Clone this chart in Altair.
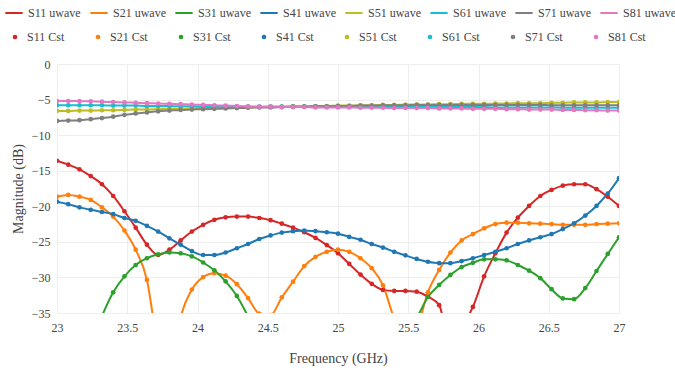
import altair as alt
import pandas as pd

# Frequency sweep (GHz)
FREQ = [23.00, 23.08, 23.16, 23.24, 23.32, 23.40, 23.48, 23.56, 23.64, 23.72,
        23.80, 23.88, 23.96, 24.04, 24.12, 24.20, 24.28, 24.36, 24.44, 24.52,
        24.60, 24.68, 24.76, 24.84, 24.92, 25.00, 25.08, 25.16, 25.24, 25.32,
        25.40, 25.48, 25.56, 25.64, 25.72, 25.80, 25.88, 25.96, 26.04, 26.12,
        26.20, 26.28, 26.36, 26.44, 26.52, 26.60, 26.68, 26.76, 26.84, 26.92,
        27.00]

PORTS = ["S11", "S21", "S31", "S41", "S51", "S61", "S71", "S81"]
COLORS = ["#d62728", "#ff7f0e", "#2ca02c", "#1f77b4",
          "#bcbd22", "#17becf", "#7f7f7f", "#e377c2"]

# Magnitudes in dB
S11 = [-13.6, -14.15, -14.8, -15.75, -16.9, -18.55, -20.7, -23.0, -25.4, -26.85,
       -26.1, -24.8, -23.55, -22.6, -21.9, -21.55, -21.45, -21.45, -21.65, -21.95,
       -22.45, -23.0, -23.65, -24.45, -25.45, -26.6, -28.1, -29.6, -30.9, -31.75,
       -31.9, -31.9, -32.0, -32.7, -33.9, -39.5, -37.0, -34.15, -29.85, -26.6,
       -23.7, -21.6, -19.95, -18.55, -17.7, -17.1, -16.9, -16.9, -17.6, -18.65,
       -19.95]
S21 = [-18.65, -18.4, -18.65, -19.1, -20.15, -21.45, -23.4, -26.1, -30.35, -40.0,
       -45.0, -35.6, -31.7, -29.95, -29.4, -29.75, -30.95, -32.9, -35.1, -35.3,
       -32.8, -30.6, -28.4, -27.1, -26.4, -26.1, -26.4, -27.3, -28.7, -31.1,
       -35.8, -39.0, -37.3, -32.1, -28.95, -26.5, -24.8, -23.9, -23.1, -22.5,
       -22.3, -22.3, -22.4, -22.45, -22.5, -22.6, -22.6, -22.6, -22.5, -22.45,
       -22.4]
S31 = [-53.0, -48.0, -43.0, -39.0, -35.4, -32.1, -29.85, -28.25, -27.3, -26.75,
       -26.5, -26.6, -27.05, -27.9, -29.0, -30.55, -32.6, -35.5, -39.0, -43.0,
       -47.0, -50.0, -52.0, -53.0, -53.0, -52.0, -50.0, -48.0, -45.0, -42.0,
       -39.0, -37.0, -35.6, -32.75, -31.05, -29.65, -28.55, -27.95, -27.45, -27.45,
       -27.6, -28.25, -29.05, -30.1, -31.65, -32.95, -33.05, -31.5, -29.1, -26.7,
       -24.35]
S41 = [-19.35, -19.7, -20.15, -20.5, -20.8, -21.1, -21.65, -22.05, -22.75, -23.55,
       -24.5, -25.4, -26.3, -26.85, -26.85, -26.5, -25.9, -25.3, -24.6, -24.1,
       -23.7, -23.5, -23.4, -23.5, -23.65, -23.85, -24.3, -24.7, -25.3, -25.8,
       -26.4, -26.9, -27.4, -27.8, -28.0, -28.0, -27.7, -27.3, -26.85, -26.4,
       -25.9, -25.3, -24.8, -24.35, -23.9, -23.2, -22.4, -21.3, -19.95, -18.2,
       -16.05]
S51 = [-6.6, -6.6, -6.55, -6.55, -6.5, -6.5, -6.45, -6.4, -6.4, -6.35,
       -6.3, -6.3, -6.25, -6.2, -6.2, -6.15, -6.1, -6.1, -6.05, -6.0,
       -6.0, -5.95, -5.95, -5.9, -5.9, -5.85, -5.85, -5.8, -5.8, -5.75,
       -5.75, -5.7, -5.7, -5.7, -5.65, -5.65, -5.6, -5.6, -5.6, -5.55,
       -5.55, -5.5, -5.5, -5.5, -5.45, -5.45, -5.4, -5.4, -5.4, -5.35,
       -5.35]
S61 = [-5.8, -5.8, -5.8, -5.8, -5.8, -5.85, -5.85, -5.85, -5.9, -5.9,
       -5.9, -5.95, -5.95, -6.0, -6.0, -6.0, -6.0, -6.0, -6.0, -6.0,
       -6.0, -6.0, -6.0, -6.0, -6.0, -6.0, -6.0, -6.0, -6.0, -6.0,
       -6.0, -6.0, -6.0, -6.0, -6.05, -6.05, -6.05, -6.05, -6.05, -6.1,
       -6.1, -6.1, -6.1, -6.1, -6.1, -6.15, -6.15, -6.15, -6.15, -6.15,
       -6.15]
S71 = [-8.0, -7.95, -7.9, -7.75, -7.6, -7.4, -7.15, -6.95, -6.8, -6.65,
       -6.55, -6.45, -6.4, -6.35, -6.3, -6.25, -6.2, -6.15, -6.1, -6.1,
       -6.05, -6.0, -6.0, -5.95, -5.95, -5.9, -5.9, -5.85, -5.85, -5.8,
       -5.8, -5.8, -5.75, -5.75, -5.75, -5.75, -5.75, -5.75, -5.75, -5.75,
       -5.75, -5.75, -5.75, -5.75, -5.8, -5.8, -5.8, -5.8, -5.8, -5.8,
       -5.8]
S81 = [-5.2, -5.2, -5.22, -5.25, -5.3, -5.35, -5.4, -5.45, -5.5, -5.55,
       -5.6, -5.65, -5.7, -5.75, -5.8, -5.85, -5.9, -5.95, -6.0, -6.0,
       -6.05, -6.05, -6.05, -6.1, -6.1, -6.1, -6.1, -6.15, -6.15, -6.15,
       -6.2, -6.2, -6.2, -6.2, -6.25, -6.25, -6.25, -6.3, -6.3, -6.3,
       -6.35, -6.35, -6.4, -6.4, -6.4, -6.45, -6.45, -6.5, -6.5, -6.55,
       -6.55]

X_TICKS = [23, 23.5, 24, 24.5, 25, 25.5, 26, 26.5, 27]
Y_TICKS = [0, -5, -10, -15, -20, -25, -30, -35]

SERIES = [S11, S21, S31, S41, S51, S61, S71, S81]

rows = []
for port, values in zip(PORTS, SERIES):
    for f, v in zip(FREQ, values):
        rows.append({"freq": f, "mag": v,
                     "uwave": f"{port} uwave", "cst": f"{port} Cst"})
df = pd.DataFrame(rows)

UWAVE_NAMES = [f"{p} uwave" for p in PORTS]
CST_NAMES = [f"{p} Cst" for p in PORTS]

FONT = "Liberation Serif"
TEXT = "#444444"

axis_style = dict(
    grid=True, gridColor="#eeeeee", gridWidth=1,
    domain=False, ticks=False, tickSize=0,
    labelFont=FONT, labelFontSize=12, labelColor=TEXT,
    labelFlush=False, labelOverlap=False,
    titleFont=FONT, titleFontSize=14, titleFontWeight="normal", titleColor=TEXT,
)

x_enc = alt.X("freq:Q",
              scale=alt.Scale(domain=[23, 27], nice=False, zero=False),
              axis=alt.Axis(values=X_TICKS, format="~g", title="Frequency (GHz)",
                            titleX=281, titleY=45, titleBaseline="middle",
                            titleAlign="center", labelPadding=9, **axis_style))
y_enc = alt.Y("mag:Q",
              scale=alt.Scale(domain=[-35, 0], nice=False, zero=False),
              axis=alt.Axis(values=Y_TICKS, format="~g", title="Magnitude (dB)",
                            titleX=-39, titleY=124.5, titleBaseline="middle",
                            titleAlign="center", labelPadding=7, **axis_style))

legend_style = dict(
    orient="none", direction="horizontal", columns=8, title=None,
    labelFont=FONT, labelFontSize=12, labelColor=TEXT, padding=0,
)

# Shared positional encodings so both layers use the same axes
base = alt.Chart(df).encode(x=x_enc, y=y_enc)

lines = base.mark_line(strokeWidth=2, clip=True, interpolate="monotone").encode(
    color=alt.Color("uwave:N",
                    scale=alt.Scale(domain=UWAVE_NAMES, range=COLORS),
                    sort=UWAVE_NAMES,
                    legend=alt.Legend(legendX=-53, legendY=-61,
                                      symbolType="stroke", symbolSize=300,
                                      symbolStrokeWidth=2, labelOffset=4,
                                      columnPadding=5, **legend_style)),
    detail="uwave:N",
)

points = base.mark_circle(size=22, opacity=1, clip=True).encode(
    fill=alt.Fill("cst:N",
                  scale=alt.Scale(domain=CST_NAMES, range=COLORS),
                  sort=CST_NAMES,
                  legend=alt.Legend(legendX=-48, legendY=-33,
                                    symbolType="circle", symbolSize=22,
                                    symbolStrokeWidth=0, labelOffset=6,
                                    columnPadding=27, **legend_style)),
)

chart = alt.layer(lines, points).properties(
    width=562,
    height=249,
    padding={"left": 57, "top": 64, "right": 56, "bottom": 60},
    autosize=alt.AutoSizeParams(type="none"),
    background="white",
).configure(
    font=FONT
).configure_view(
    stroke=None
)

chart.save("out.html", embed_options={"renderer": "svg", "actions": False})
